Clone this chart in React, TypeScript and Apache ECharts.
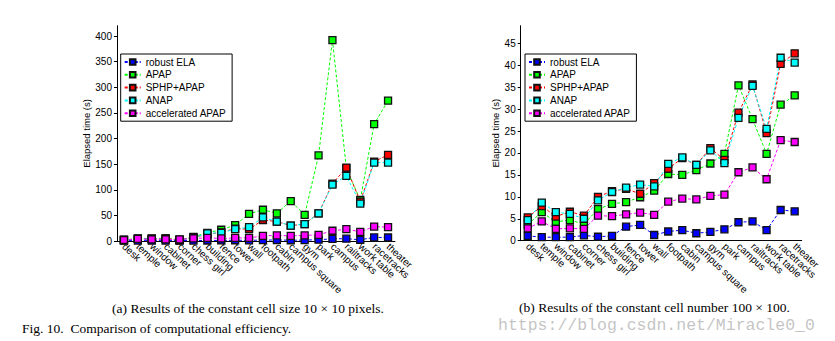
import React, { useEffect, useRef } from "react";
import * as echarts from "echarts";

const categories = [
  "desk", "temple", "window", "cabinet", "corner", "chess girl", "building", "fence", "tower", "wall",
  "footpath", "cabin", "campus square", "gym", "park", "campus", "railtracks", "work table", "racetracks", "theater",
];

const seriesNames = ["robust ELA", "APAP", "SPHP+APAP", "ANAP", "accelerated APAP"];
const seriesColors = ["#0000ff", "#00ff00", "#ff0000", "#00ffff", "#ff00ff"];

// (a) constant cell size 10 x 10 pixels
const robustA = [0.8, 0.7, 0.7, 0.7, 0.9, 0.8, 1.0, 1.2, 1.5, 1.3, 1.8, 2.0, 1.5, 1.8, 2.5, 4.2, 4.5, 2.4, 7.0, 6.8];
const apapA = [2, 5, 5, 5, 2, 8, 16, 22, 31, 53, 61, 54, 78, 51, 167, 392, 142, 80, 228, 274];
const sphpA = [2, 4, 4, 5, 2, 7, 13, 17, 24, 23, 41, 38, 30, 33, 54, 112, 143, 77, 155, 168];
const anapA = [2, 4, 4, 4, 2, 6, 15, 16, 23, 27, 46, 38, 30, 33, 54, 110, 127, 73, 153, 153];
const accA = [2, 4, 3, 3, 3, 5, 6, 5, 6, 6, 10, 11, 10, 11, 12, 20, 23, 18, 28, 27];

// (b) constant cell number 100 x 100
const robustB = [1.1, 0.8, 0.8, 0.8, 1.2, 0.9, 1.1, 3.2, 3.6, 1.3, 2.1, 2.4, 1.7, 2.0, 2.6, 4.2, 4.4, 2.4, 7.0, 6.7];
const apapB = [3.7, 6.5, 4.3, 4.7, 3.8, 7.2, 8.4, 8.8, 9.9, 11.4, 15.2, 15.0, 16.1, 17.6, 19.8, 35.4, 27.7, 19.8, 31.0, 33.1];
const sphpB = [5.3, 7.9, 5.5, 6.6, 5.7, 10.0, 11.3, 11.8, 10.7, 13.1, 16.4, 18.8, 17.3, 21.1, 18.4, 29.2, 35.6, 24.5, 40.3, 42.7];
const anapB = [4.7, 8.7, 6.5, 6.1, 5.0, 9.2, 11.1, 12.1, 12.8, 12.4, 17.5, 19.0, 17.3, 20.6, 17.7, 28.0, 35.3, 25.5, 41.7, 40.6];
const accB = [2.8, 4.4, 2.7, 2.8, 2.7, 5.7, 5.6, 6.0, 6.4, 5.9, 8.9, 9.6, 9.4, 10.2, 10.5, 15.6, 16.7, 14.0, 22.9, 22.5];

const yTicksA = [0, 50, 100, 150, 200, 250, 300, 350, 400];
const yTicksB = [0, 5, 10, 15, 20, 25, 30, 35, 40, 45];

const captionA = "(a) Results of the constant cell size 10 × 10 pixels.";
const captionB = "(b) Results of the constant cell number 100 × 100.";
const figCaption = "Fig. 10.  Comparison of computational efficiency.";
const watermark = "https://blog.csdn.net/Miracle0_0";

const SANS = "Liberation Sans";

export default function App() {
  const ref = useRef<HTMLDivElement>(null);

  useEffect(() => {
    if (!ref.current) return;
    const chart = echarts.init(ref.current, null, { renderer: "svg" });

    const dataSets = [
      [robustA, apapA, sphpA, anapA, accA],
      [robustB, apapB, sphpB, anapB, accB],
    ];

    const xAxis = [0, 1].map((i) => ({
      type: "category",
      gridIndex: i,
      data: categories,
      boundaryGap: true,
      axisLine: { lineStyle: { color: "#000", width: 1 } },
      axisTick: { inside: true, length: 3, alignWithLabel: true, lineStyle: { color: "#000" } },
      axisLabel: {
        rotate: -43,
        interval: 0,
        margin: 4,
        fontSize: 10,
        fontFamily: SANS,
        color: "#000",
      },
      splitLine: { show: false },
    }));

    const yMaker = (i: number, max: number, interval: number, ticks: number[], gap: number) => ({
      type: "value",
      gridIndex: i,
      min: 0,
      max,
      interval,
      name: "Elapsed time (s)",
      nameLocation: "middle",
      nameRotate: 90,
      nameGap: gap,
      nameTextStyle: { fontSize: 9.5, fontFamily: SANS, color: "#000" },
      axisLine: { show: true, lineStyle: { color: "#000", width: 1 } },
      axisTick: { show: true, inside: false, length: 3, lineStyle: { color: "#000" }, customValues: ticks },
      axisLabel: {
        fontSize: 10,
        fontFamily: SANS,
        color: "#000",
        margin: 5,
        customValues: ticks,
        formatter: (v: number) => (ticks.indexOf(v) >= 0 ? String(v) : ""),
      },
      splitLine: { show: false },
    });

    const series: any[] = [];
    dataSets.forEach((sets, gi) => {
      sets.forEach((vals, si) => {
        series.push({
          type: "line",
          name: seriesNames[si],
          xAxisIndex: gi,
          yAxisIndex: gi,
          data: vals,
          symbol: "rect",
          symbolSize: 7,
          lineStyle: { type: [3, 2], width: 1, color: seriesColors[si] },
          itemStyle: { color: seriesColors[si], borderColor: "#111", borderWidth: 1.3 },
          emphasis: { disabled: true },
        });
      });
    });

    const legendBase = {
      orient: "vertical",
      top: 54,
      data: seriesNames,
      borderColor: "#000",
      borderWidth: 1,
      padding: [2, 6, 2, 3],
      itemGap: 0.8,
      itemWidth: 16,
      itemHeight: 7,
      textStyle: { fontSize: 10, fontFamily: SANS, color: "#000", lineHeight: 12 },
      backgroundColor: "#fff",
    };

    const textEl = (text: string, x: number, y: number, font: string, fill: string, align: string) => ({
      type: "text",
      x,
      y,
      style: { text, font, fill, textAlign: align, textVerticalAlign: "middle" },
    });

    chart.setOption({
      animation: false,
      backgroundColor: "#fff",
      grid: [
        { left: 117, top: 25.75, width: 278, height: 215.25 },
        { left: 520.7, top: 25.7, width: 281, height: 215 },
      ],
      xAxis,
      yAxis: [yMaker(0, 420, 50, yTicksA, 23), yMaker(1, 49, 5, yTicksB, 16)],
      legend: [
        { ...legendBase, left: 120.7 },
        { ...legendBase, left: 525 },
      ],
      series,
      graphic: [
        textEl(captionA, 248, 308, '13.5px "Liberation Serif"', "#000", "center"),
        textEl(captionB, 654.5, 307, '13.5px "Liberation Serif"', "#000", "center"),
        textEl(figCaption, 22, 328, '13.5px "Liberation Serif"', "#000", "left"),
        textEl(watermark, 498, 325, '16.5px "Liberation Mono"', "rgba(170,170,170,0.7)", "left"),
      ],
    });

    return () => chart.dispose();
  }, []);

  return (
    <div
      ref={ref}
      style={{ position: "fixed", left: 0, top: 0, width: 835, height: 341, background: "#fff" }}
    />
  );
}
